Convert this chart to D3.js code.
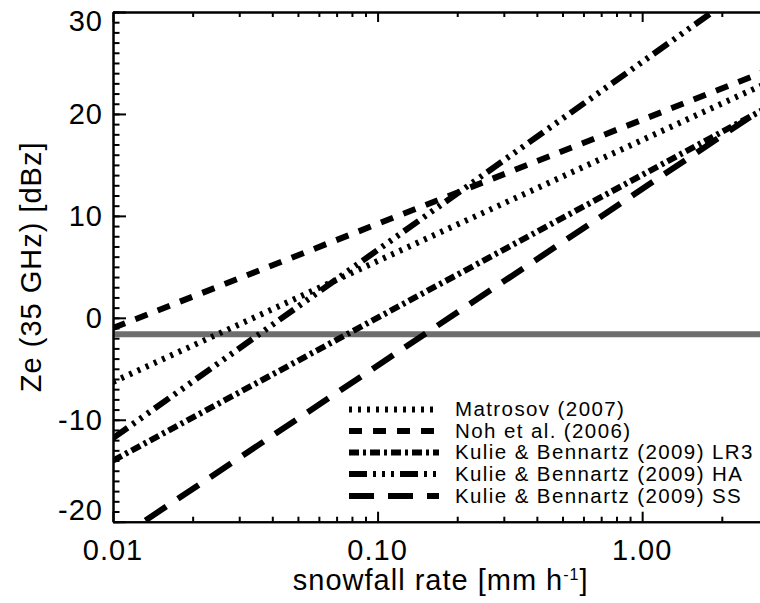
<!DOCTYPE html>
<html>
<head>
<meta charset="utf-8">
<script src="https://cdn.jsdelivr.net/npm/d3@7"></script>
<style>
  html, body { margin: 0; padding: 0; background: #fff; }
  svg { display: block; overflow: hidden; }
  text { font-family: "Liberation Sans", Arial, Helvetica, sans-serif; fill: #000; }
</style>
</head>
<body>
<svg id="chart" width="760" height="603"></svg>
<script>
// snowfall rate end points (mm/h) and Ze (dBZ)
const snowfall = [0.01, 3];
const matrosov = [-6.3, 23.1];
const noh = [-1.0, 24.3];
const kbLR3 = [-14.0, 20.7];
const kbHA = [-11.8, 33.9];
const kbSS = [-22.0, 20.9];
const thresholdDbz = -1.6;

const xMajor = [0.01, 0.1, 1];
const xMajorLabels = ["0.01", "0.10", "1.00"];
const yMajor = [-20, -10, 0, 10, 20, 30];

const seriesNames = [
    "Matrosov (2007)",
    "Noh et al. (2006)",
    "Kulie & Bennartz (2009) LR3",
    "Kulie & Bennartz (2009) HA",
    "Kulie & Bennartz (2009) SS"
];
const seriesValues = [matrosov, noh, kbLR3, kbHA, kbSS];
const dashes = ["3,6", "13,11", "10,4,3,4", "18,6,3,6,3,6,3,6", "25,14"];

const svg = d3.select("#chart");
const plotLeft = 113, plotTop = 12, plotBottom = 521.7, plotW = 655.4;

const x = d3.scaleLog().domain([0.01, 3]).range([plotLeft, plotLeft + plotW]);
const y = d3.scaleLinear().domain([-20, 30]).range([plotBottom, plotTop]);

// clip for data lines
svg.append("defs").append("clipPath").attr("id", "plotclip")
   .append("rect").attr("x", plotLeft).attr("y", plotTop)
   .attr("width", plotW).attr("height", plotBottom - plotTop);

const plot = svg.append("g").attr("clip-path", "url(#plotclip)");

// grey reference line
plot.append("line")
    .attr("x1", x(snowfall[0])).attr("x2", x(snowfall[1]))
    .attr("y1", y(thresholdDbz)).attr("y2", y(thresholdDbz))
    .attr("stroke", "#6e6e6e").attr("stroke-width", 6);

const line = d3.line().x(d => x(d[0])).y(d => y(d[1]));

seriesValues.forEach((vals, i) => {
    plot.append("path")
        .datum(snowfall.map((s, j) => [s, vals[j]]))
        .attr("d", line)
        .attr("fill", "none")
        .attr("stroke", "#000")
        .attr("stroke-width", 6)
        .attr("stroke-dasharray", dashes[i]);
});

// axes, IDL style: major/minor ticks on bottom+top, left
const xMinor = [];
[0.01, 0.1, 1].forEach(d => { for (let k = 2; k <= 9; k++) if (d * k <= 3) xMinor.push(d * k); });

const axisStroke = g => g.selectAll("path, line").attr("stroke", "#000").attr("stroke-width", 2);

svg.append("g").attr("transform", `translate(0,${plotBottom})`)
   .call(d3.axisTop(x).tickValues(xMinor).tickSize(5).tickFormat("").tickSizeOuter(0))
   .call(axisStroke);
svg.append("g").attr("transform", `translate(0,${plotBottom})`)
   .call(d3.axisTop(x).tickValues(xMajor).tickSize(10).tickFormat("").tickSizeOuter(0))
   .call(axisStroke);
svg.append("g").attr("transform", `translate(0,${plotTop})`)
   .call(d3.axisBottom(x).tickValues(xMinor).tickSize(5).tickFormat("").tickSizeOuter(0))
   .call(axisStroke);
svg.append("g").attr("transform", `translate(0,${plotTop})`)
   .call(d3.axisBottom(x).tickValues(xMajor).tickSize(10).tickFormat("").tickSizeOuter(0))
   .call(axisStroke);

svg.append("g").attr("transform", `translate(${plotLeft},0)`)
   .call(d3.axisRight(y).tickValues(d3.range(-20, 31, 1)).tickSize(6.5).tickFormat("").tickSizeOuter(0))
   .call(axisStroke);
svg.append("g").attr("transform", `translate(${plotLeft},0)`)
   .call(d3.axisRight(y).tickValues(yMajor).tickSize(13).tickFormat("").tickSizeOuter(0))
   .call(axisStroke);

// tick labels
svg.append("g").selectAll("text")
   .data(xMajor).enter().append("text")
   .attr("x", d => x(d)).attr("y", 560)
   .attr("text-anchor", "middle")
   .style("font-size", "29px").style("letter-spacing", "1px")
   .text((d, i) => xMajorLabels[i]);

svg.append("g").selectAll("text")
   .data(yMajor).enter().append("text")
   .attr("x", 103)
   .attr("y", d => {
       if (d === 30) return y(d) + 19;
       if (d === -20) return y(d) - 1.5;
       return y(d) + 10.5;
   })
   .attr("text-anchor", "end")
   .style("font-size", "29px").style("letter-spacing", "1px")
   .text(d => String(d));

// axis titles
const xt = svg.append("text")
   .attr("x", plotLeft + plotW / 2).attr("y", 590)
   .attr("text-anchor", "middle")
   .style("font-size", "29px").style("letter-spacing", "1px");
xt.append("tspan").text("snowfall rate [mm h");
xt.append("tspan").attr("dy", -10).style("font-size", "16px").text("-1");
xt.append("tspan").attr("dy", 10).text("]");

svg.append("text")
   .attr("transform", `translate(41,${(plotTop + plotBottom) / 2}) rotate(-90)`)
   .attr("text-anchor", "middle")
   .style("font-size", "29px").style("letter-spacing", "1px")
   .text("Ze (35 GHz) [dBz]");

// legend
const legRows = [409.5, 431, 452.5, 474, 496];
const leg = svg.append("g");
seriesNames.forEach((name, i) => {
    leg.append("line")
       .attr("x1", 349).attr("x2", 439)
       .attr("y1", legRows[i]).attr("y2", legRows[i])
       .attr("stroke", "#000").attr("stroke-width", 6)
       .attr("stroke-dasharray", dashes[i]);
    leg.append("text")
       .attr("x", 455).attr("y", legRows[i] + 6.5)
       .style("font-size", "20.5px").style("letter-spacing", "1.4px")
       .text(name);
});
</script>
</body>
</html>
